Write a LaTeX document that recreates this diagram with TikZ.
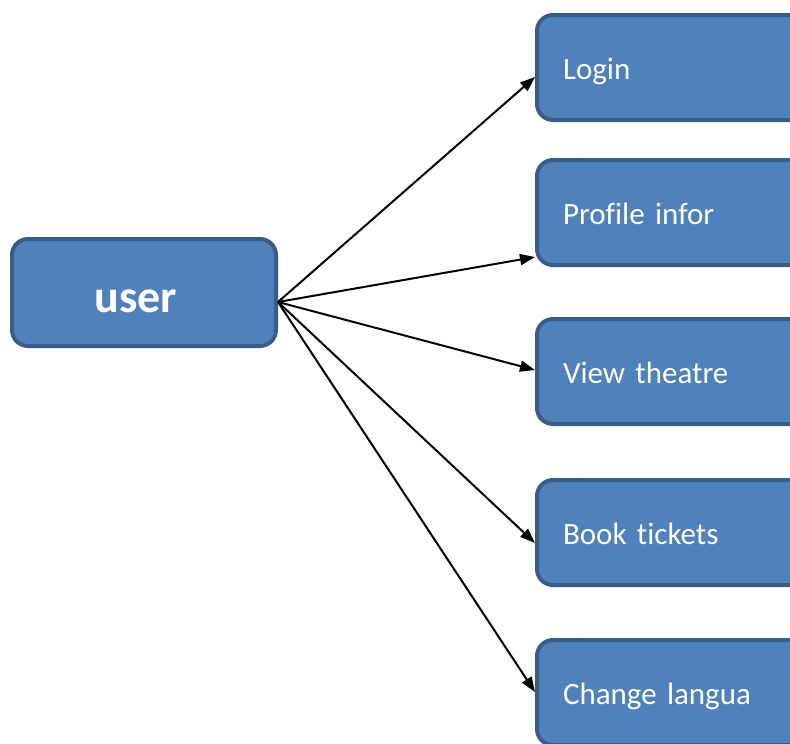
\documentclass[tikz,border=0pt]{standalone}
\usepackage{fontspec}
\setmainfont{Carlito}[Ligatures=CommonOff]
\usetikzlibrary{arrows.meta}
\definecolor{boxfill}{HTML}{4F81BD}
\definecolor{boxline}{HTML}{385D8A}
\begin{document}
\begin{tikzpicture}[x=1pt,y=-1pt,
  box/.style={draw=boxline, line width=4pt, fill=boxfill, rounded corners=16pt,
    text=white, inner sep=0pt},
  userbox/.style={box, minimum width=264pt, minimum height=107pt,
    font=\fontsize{46}{50}\selectfont\bfseries, text height=40pt, text depth=1pt},
  taskbox/.style={box, anchor=west, minimum width=300pt, minimum height=105pt,
    text width=248pt, align=left, inner xsep=26pt,
    font=\fontsize{31}{36}\selectfont, text height=24pt, text depth=1pt},
  link/.style={line width=2pt, -{Triangle[length=15pt,width=11pt]}}]
\useasboundingbox (0,0) rectangle (790,744);
\clip (0,0) rectangle (790,744);

% actor on the left
\node[userbox] (user) at (144,292.5) {user\hspace*{16pt}};

% actions on the right
\node[taskbox] (login)   at (535,67.5)  {Login};
\node[taskbox] (profile) at (535,212.5) {Profile infor};
\node[taskbox] (theatre) at (535,371.5) {View theatre};
\node[taskbox] (book)    at (535,532.5) {Book tickets};
\node[taskbox] (lang)    at (535,692.5) {Change langua};

% common start of the connectors
\coordinate (hub) at ([yshift=-9.5pt]user.east);

\draw[link] (hub) -- ([yshift=-9.5pt]login.west);
\draw[link] (hub) -- ([yshift=-44.5pt]profile.west);
\draw[link] (hub) -- ([yshift=1.5pt]theatre.west);
\draw[link] (hub) -- ([yshift=-10.5pt]book.west);
\draw[link] (hub) -- ([yshift=0.5pt]lang.west);
\end{tikzpicture}
\end{document}
